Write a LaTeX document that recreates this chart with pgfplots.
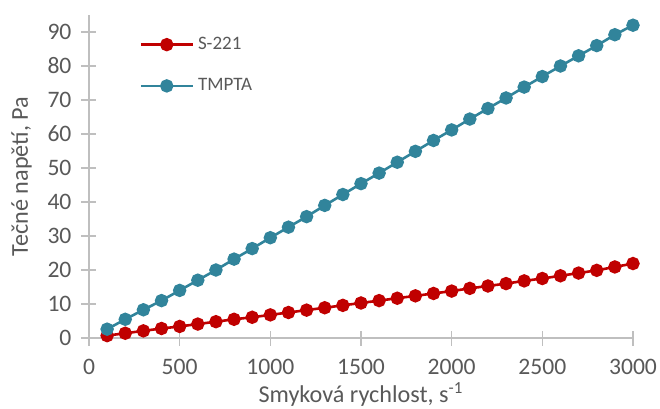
\documentclass[border=0pt]{standalone}
\usepackage{fontspec}
\setmainfont{Carlito}
\usepackage{pgfplots}
\pgfplotsset{compat=1.18}
\definecolor{txt}{HTML}{595959}
\definecolor{axg}{HTML}{BFBFBF}
\definecolor{sred}{HTML}{C00000}
\definecolor{tteal}{HTML}{31849B}
\begin{document}
\begin{tikzpicture}
\begin{axis}[
  scale only axis,
  width=272pt, height=161.5pt,
  xmin=0, xmax=3000, ymin=0, ymax=95,
  axis lines=left,
  axis line style={axg, line width=0.8pt, -},
  xtick={0,500,...,3000},
  ytick={0,10,...,90},
  tick align=center,
  major tick length=7.5pt,
  tick style={axg, line width=0.8pt},
  /pgf/number format/assume math mode=true,
  /pgf/number format/1000 sep={},
  ticklabel style={font=\fontsize{11.8}{13}\selectfont, text=txt},
  xticklabel style={yshift=-3.5pt},
  yticklabel style={xshift=-1.5pt},
  xlabel={Smyková rychlost, s\textsuperscript{-1}},
  ylabel={Tečné napětí, Pa},
  label style={font=\fontsize{12.1}{14}\selectfont, text=txt},
  xlabel style={yshift=3pt},
  ylabel style={yshift=1pt},
  legend style={draw=none, fill=none, at={(0.081,0.958)}, anchor=north west,
     font=\fontsize{9.5}{11}\selectfont, text=txt, row sep=9pt},
  legend cell align=left,
  legend image code/.code={\draw[mark repeat=2,mark phase=2,#1] plot coordinates {(0pt,0pt) (13pt,0pt) (26pt,0pt)};},
  clip=false,
]
\addplot[sred, line width=1.3pt, mark=*, mark size=2.7pt, mark options={fill=sred, draw=sred}] coordinates {
(100,0.7)(200,1.4)(300,2.1)(400,2.8)(500,3.4)(600,4.1)(700,4.8)(800,5.5)(900,6.1)(1000,6.8)
(1100,7.5)(1200,8.2)(1300,8.9)(1400,9.6)(1500,10.3)(1600,11.0)(1700,11.7)(1800,12.4)(1900,13.1)(2000,13.8)
(2100,14.6)(2200,15.3)(2300,16.0)(2400,16.8)(2500,17.5)(2600,18.3)(2700,19.1)(2800,19.9)(2900,20.9)(3000,21.9)
};
\addlegendentry{S-221}
\addplot[tteal, line width=1.3pt, mark=*, mark size=2.7pt, mark options={fill=tteal, draw=tteal}] coordinates {
(100,2.6)(200,5.5)(300,8.3)(400,11.0)(500,14.0)(600,17.0)(700,20.0)(800,23.2)(900,26.3)(1000,29.5)
(1100,32.6)(1200,35.7)(1300,39.0)(1400,42.2)(1500,45.4)(1600,48.5)(1700,51.7)(1800,54.9)(1900,58.1)(2000,61.2)
(2100,64.4)(2200,67.5)(2300,70.6)(2400,73.8)(2500,76.9)(2600,80.0)(2700,83.0)(2800,86.0)(2900,89.2)(3000,92.0)
};
\addlegendentry{TMPTA}
\end{axis}
\pgfresetboundingbox
\path[use as bounding box] ([xshift=-44.5pt,yshift=-35pt]current axis.south west) rectangle ([xshift=13.5pt,yshift=7.5pt]current axis.north east);
\end{tikzpicture}
\end{document}
